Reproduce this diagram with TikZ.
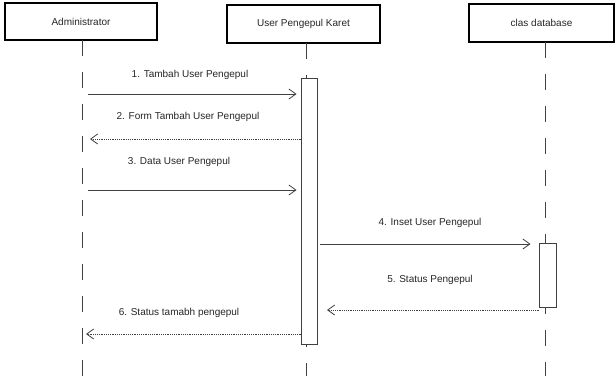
\documentclass[tikz,border=0pt]{standalone}
\usepackage{fontspec}
\setmainfont{Liberation Sans}
\usetikzlibrary{arrows.meta}
\begin{document}
\begin{tikzpicture}[x=1pt,y=-1pt,
  actor/.style={draw=black,line width=1.5pt,fill=white,inner sep=0pt,font=\fontsize{10}{12}\selectfont,text=black!85},
  lifeline/.style={draw=black!75,line width=1pt,dash pattern=on 16pt off 16pt},
  actbox/.style={draw=black!75,line width=0.9pt,fill=white,inner sep=0pt,minimum width=16pt},
  msg/.style={draw=black!75,line width=0.9pt,-{Straight Barb[length=7pt,width=10pt,line width=0.8pt]}},
  ret/.style={msg,dash pattern=on 1.2pt off 1pt},
  lbl/.style={font=\fontsize{10}{12}\selectfont,text=black!85,inner sep=0pt}]
\useasboundingbox (0,0) rectangle (616,376);
\fill[white] (0,0) rectangle (616,376);
% actors
\node[actor,minimum width=152pt,minimum height=37pt] (adm) at (81,21.5) {Administrator};
\node[actor,minimum width=153pt,minimum height=38pt] (usr) at (303.5,24) {User Pengepul Karet};
\node[actor,minimum width=145pt,minimum height=38pt] (db) at (541.5,23) {clas database};
% lifelines
\coordinate (admTop) at (82,40);
\coordinate (admBot) at (82,376);
\coordinate (usrTop) at (306,43);
\coordinate (usrBot) at (306,376);
\coordinate (dbTop) at (545,42);
\coordinate (dbBot) at (545,376);
\draw[lifeline] (admTop) -- (admBot);
\draw[lifeline] (usrTop) -- (usrBot);
\draw[lifeline] (dbTop) -- (dbBot);
% activations
\node[actbox,minimum height=266pt] (act1) at (309,211) {};
\node[actbox,minimum width=17pt,minimum height=64pt] (act2) at (547.5,275) {};
% messages
\coordinate (m1) at (88,94);
\draw[msg,shorten >=4pt] (m1) -- (m1 -| act1.west);
\node[lbl] at (190,75) {1. Tambah User Pengepul};
\coordinate (m2) at (90,139);
\draw[ret] (m2 -| act1.west) -- (m2);
\node[lbl] at (188,117) {2. Form Tambah User Pengepul};
\coordinate (m3) at (88,190);
\draw[msg,shorten >=4pt] (m3) -- (m3 -| act1.west);
\node[lbl] at (179,162) {3. Data User Pengepul};
\coordinate (m4) at (320,244);
\draw[msg,shorten >=8pt] (m4) -- (m4 -| act2.west);
\node[lbl] at (430,223) {4. Inset User Pengepul};
\coordinate (m5) at (327,310);
\draw[ret] (m5 -| act2.west) -- (m5);
\node[lbl] at (430,280) {5. Status Pengepul};
\coordinate (m6) at (86,334);
\draw[ret] (m6 -| act1.west) -- (m6);
\node[lbl] at (179,313) {6. Status tamabh pengepul};
\end{tikzpicture}
\end{document}
